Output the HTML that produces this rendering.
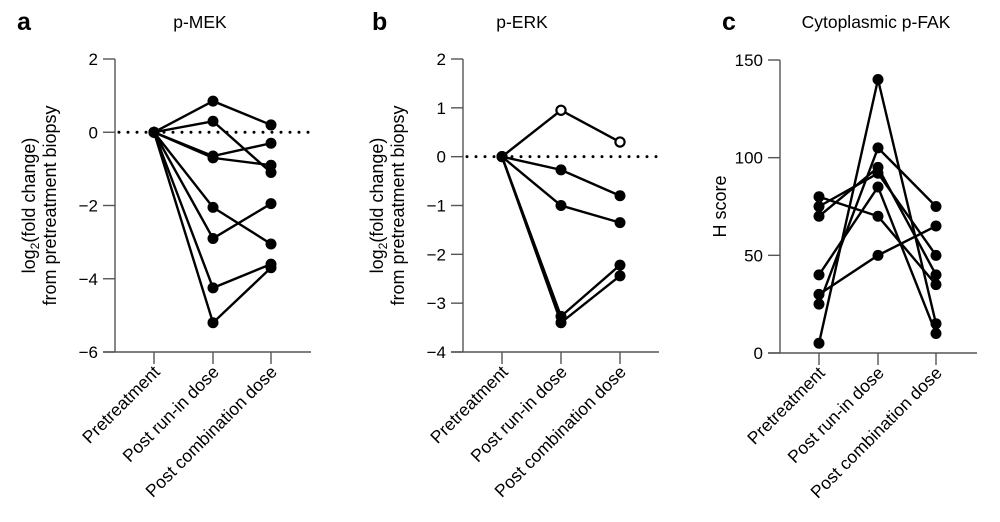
<!DOCTYPE html>
<html><head><meta charset="utf-8"><style>
body{margin:0;background:#fff}
svg{display:block;font-family:"Liberation Sans",sans-serif}
</style></head><body>
<svg id="chart" width="1000" height="522" viewBox="0 0 1000 522" xmlns="http://www.w3.org/2000/svg"></svg>
<script>
const categories = ["Pretreatment","Post run-in dose","Post combination dose"];
const mekSeries = [[0,0.85,0.2],[0,0.3,-1.1],[0,-0.65,-0.3],[0,-0.7,-0.9],[0,-2.05,-3.05],[0,-2.9,-1.95],[0,-4.25,-3.6],[0,-5.2,-3.7]];
const erkSeries = [[0,0.95,0.3],[0,-0.27,-0.8],[0,-1.0,-1.35],[0,-3.27,-2.22],[0,-3.4,-2.44]];
const erkOpen = [true,false,false,false,false];
const fakSeries = [[5,140,15],[80,70,35],[75,92,50],[70,95,40],[40,85,10],[30,50,65],[25,105,75]];
const mekTicks = [2,0,-2,-4,-6];
const erkTicks = [2,1,0,-1,-2,-3,-4];
const fakTicks = [150,100,50,0];

const NS="http://www.w3.org/2000/svg";
const svg=document.getElementById('chart');
function mk(tag,attrs,parent,text){const e=document.createElementNS(NS,tag);for(const k in attrs)e.setAttribute(k,attrs[k]);if(text!==undefined)e.textContent=text;(parent||svg).appendChild(e);return e;}

function panel(cfg){
  const g=mk('g',{});
  
  
  const y=v=>cfg.yTop+(cfg.max-v)/(cfg.max-cfg.min)*(cfg.yBot-cfg.yTop);
  const x=i=>cfg.cx[i];
  const lab=mk('text',{x:cfg.labelX,y:30,'font-size':25,'font-weight':'bold'},g,cfg.letter);
  
  
  const t=mk('text',{x:cfg.titleX,y:28,'font-size':17.5,'text-anchor':'middle'},g,cfg.title);
  
  
  const ya=mk('line',{x1:cfg.ax,x2:cfg.ax,y1:cfg.yTop,y2:cfg.yBot,stroke:'#555','stroke-width':1.4},g);
  
  
  const xa=mk('line',{x1:cfg.ax-12,x2:cfg.axEnd,y1:cfg.yBot,y2:cfg.yBot,stroke:'#555','stroke-width':1.4},g);
  
  
  cfg.ticks.forEach(v=>{
    mk('line',{x1:cfg.ax-12,x2:cfg.ax,y1:y(v),y2:y(v),stroke:'#555','stroke-width':1.4},g);
    const tl=mk('text',{x:cfg.ax-17,y:y(v)+6,'font-size':17,'text-anchor':'end'},g,v<0?'\u2212'+(-v):String(v));
    
    
  });
  categories.forEach((c,i)=>{
    mk('line',{x1:x(i),x2:x(i),y1:cfg.yBot,y2:cfg.yBot+12,stroke:'#555','stroke-width':1.4},g);
    const tx=x(i)+7, ty=cfg.yBot+21;
    const cl=mk('text',{x:tx,y:ty,'font-size':17.5,'text-anchor':'end',transform:`rotate(-45 ${tx} ${ty})`},g,c);
    
    
  });
  const yt=mk('text',{'font-size':18,'text-anchor':'middle',transform:`translate(${cfg.ytX},${(cfg.yTop+cfg.yBot)/2}) rotate(-90)`},g);
  
  
  if(cfg.log){
    mk('tspan',{x:0,y:0},yt,'log');
    mk('tspan',{'font-size':12,dy:4},yt,'2');
    mk('tspan',{dy:-4},yt,'(fold change)');
    mk('tspan',{x:0,y:21},yt,'from pretreatment biopsy');
  } else yt.textContent='H score';
  if(cfg.zero){
    const z=mk('line',{x1:cfg.ax+4,x2:cfg.axEnd,y1:y(0),y2:y(0),stroke:'#000','stroke-width':3,'stroke-dasharray':'0 9','stroke-linecap':'round'},g);
    
    
  }
  cfg.series.forEach((s,k)=>{
    const pl=mk('polyline',{points:s.map((v,i)=>x(i)+','+y(v)).join(' '),fill:'none',stroke:'#000','stroke-width':2.4},g);
    
    
    s.forEach((v,i)=>{
      const open=cfg.open&&cfg.open[k]&&i>0;
      const c=mk('circle',{cx:x(i),cy:y(v),r:open?4.6:5.5,fill:open?'#fff':'#000',stroke:'#000','stroke-width':open?2.2:0},g);
      
      
    });
  });
}
panel({name:'p-mek',letter:'a',title:'p-MEK',labelX:17,titleX:200,ax:115,axEnd:311,yTop:59,yBot:352,min:-6,max:2,ticks:mekTicks,cx:[154,213,271],series:mekSeries,zero:true,log:true,ytX:35});
panel({name:'p-erk',letter:'b',title:'p-ERK',labelX:372,titleX:522,ax:463,axEnd:659,yTop:59,yBot:352,min:-4,max:2,ticks:erkTicks,cx:[502,561,620],series:erkSeries,open:erkOpen,zero:true,log:true,ytX:383});
panel({name:'p-fak',letter:'c',title:'Cytoplasmic p-FAK',labelX:722,titleX:876,ax:780,axEnd:977,yTop:60,yBot:353,min:0,max:150,ticks:fakTicks,cx:[819,878,936],series:fakSeries,zero:false,log:false,ytX:726});
</script>
</body></html>
